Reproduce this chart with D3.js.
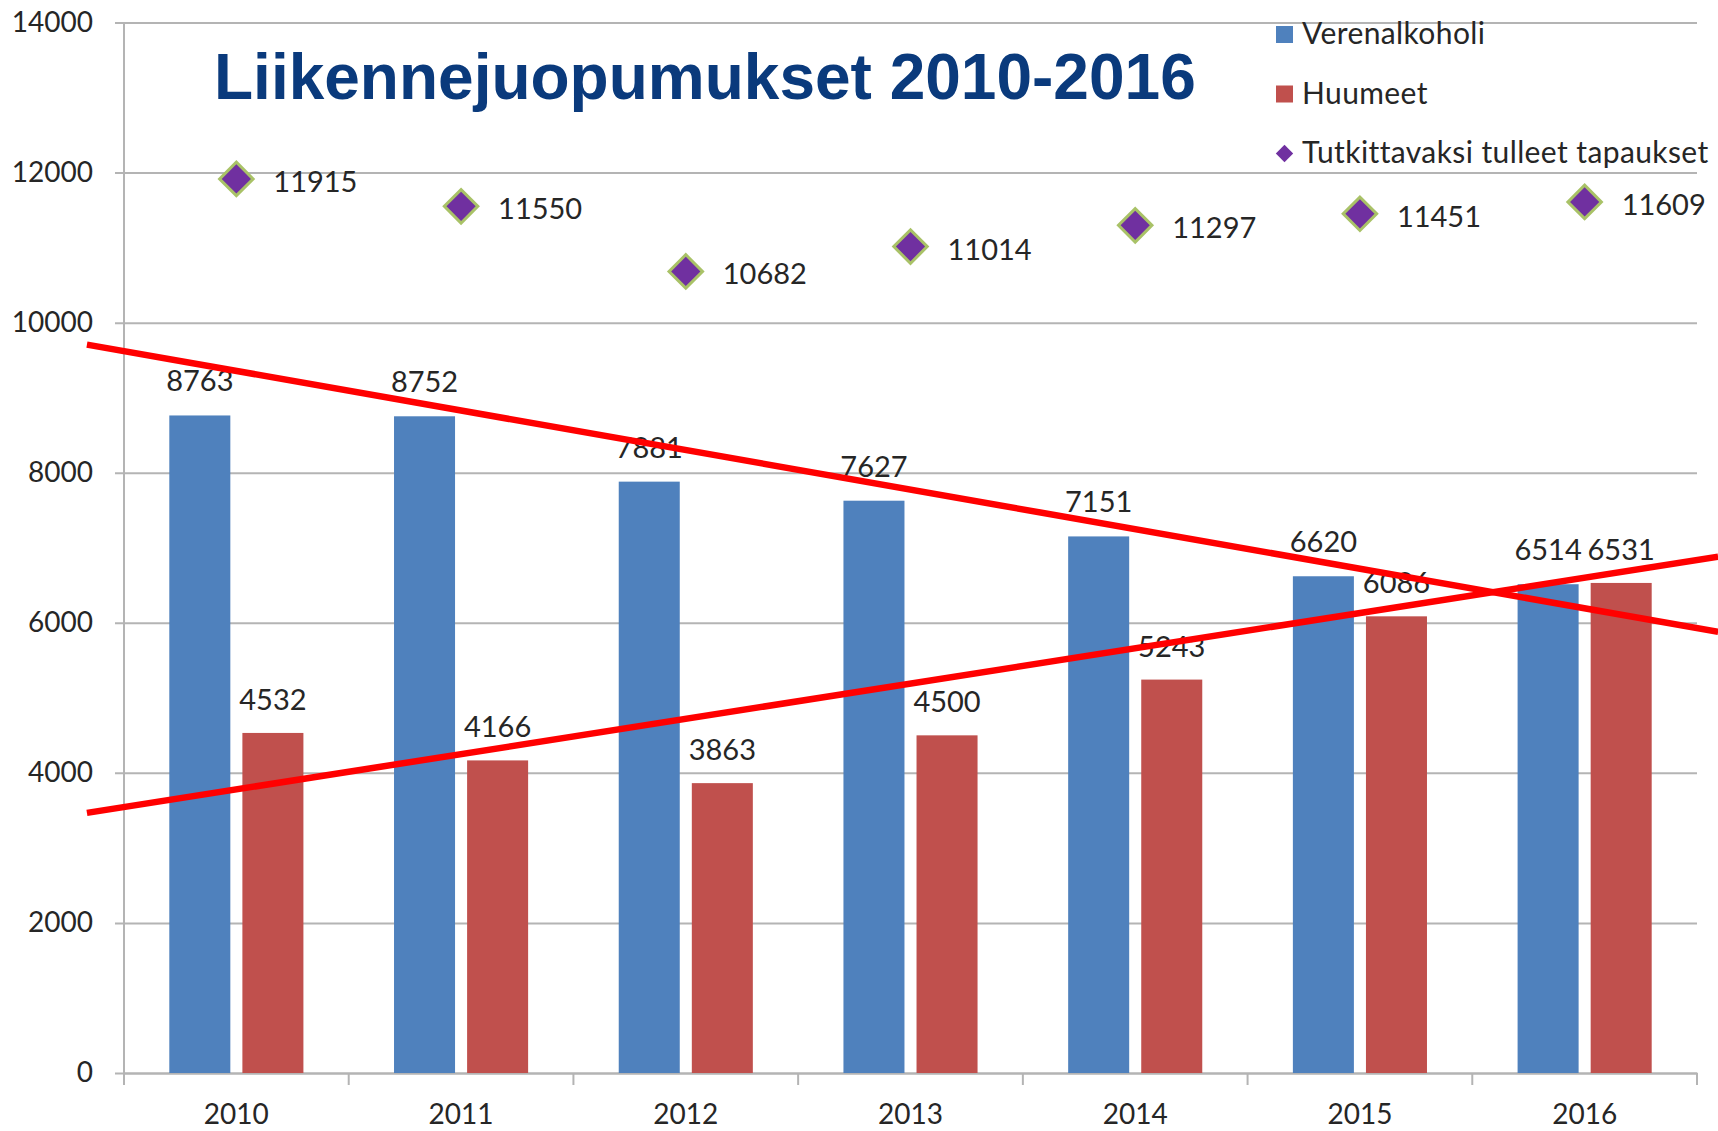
<!DOCTYPE html>
<html>
<head>
<meta charset="utf-8">
<script src="https://cdn.jsdelivr.net/npm/d3@7"></script>
<style>
  body { margin: 0; background: #fff; }
  svg { display: block; font-family: Lato, "Open Sans", sans-serif; }
</style>
</head>
<body>
<div id="chart"></div>
<script>
// years on the x axis
const years = ["2010", "2011", "2012", "2013", "2014", "2015", "2016"];
// bar series
const verenalkoholi = [8763, 8752, 7881, 7627, 7151, 6620, 6514];
const huumeet = [4532, 4166, 3863, 4500, 5243, 6086, 6531];
// diamond series
const tutkittavaksi = [11915, 11550, 10682, 11014, 11297, 11451, 11609];
// y ticks
const yTicks = [0, 2000, 4000, 6000, 8000, 10000, 12000, 14000];
// hand drawn red lines: [year position, value] at both ends
const trendDown = [[2009.335, 9707], [2016.594, 5880]];
const trendUp = [[2009.335, 3467], [2016.594, 6880]];
const legendLabels = ["Verenalkoholi", "Huumeet", "Tutkittavaksi tulleet tapaukset"];

const W = 1718, H = 1131;
const plotL = 124, plotR = 1697, plotT = 22.5, plotB = 1073;
const blue = "#4F81BD", red = "#C0504D", purple = "#7030A0", textCol = "#262626";

const svg = d3.select("#chart").append("svg")
    .attr("width", W)
    .attr("height", H);

const x = d3.scaleBand().domain(years).range([plotL, plotR]).padding(0);
const xSub = d3.scaleBand().domain(["v", "h"]).range([0, x.bandwidth()])
    .paddingInner(0.165).paddingOuter(0.62);
const y = d3.scaleLinear().domain([0, 14000]).range([plotB, plotT]);
const xYear = d3.scaleLinear()
    .domain([2010, 2016])
    .range([x("2010") + x.bandwidth() / 2, x("2016") + x.bandwidth() / 2]);

// gridlines + y axis
const yAxis = svg.append("g")
    .attr("transform", `translate(${plotL},0)`)
    .call(d3.axisLeft(y).tickValues(yTicks).tickFormat(d3.format("d"))
        .tickSize(plotR - plotL + 9).tickSizeOuter(0));
yAxis.select(".domain").remove();
yAxis.selectAll(".tick line")
    .attr("transform", `translate(${plotR - plotL},0)`)
    .attr("stroke", "#b4b4b4").attr("stroke-width", 2);
yAxis.selectAll(".tick text")
    .attr("x", -31)
    .attr("fill", textCol)
    .style("font-size", "28px")
    .style("font-family", "Lato");

svg.append("line")
    .attr("x1", plotL).attr("x2", plotL)
    .attr("y1", plotT).attr("y2", plotB)
    .attr("stroke", "#b4b4b4").attr("stroke-width", 2);

// x axis
const xAxis = svg.append("g")
    .attr("transform", `translate(0,${plotB})`)
    .call(d3.axisBottom(x).tickSize(0).tickPadding(31));
xAxis.select(".domain").attr("stroke", "#b4b4b4").attr("stroke-width", 2);
xAxis.selectAll(".tick text")
    .attr("fill", textCol)
    .style("font-size", "28px")
    .style("font-family", "Lato");
xAxis.selectAll(".sep")
    .data(years.concat(["end"]))
    .enter().append("line")
    .attr("x1", (d, i) => plotL + i * x.step())
    .attr("x2", (d, i) => plotL + i * x.step())
    .attr("y1", 0).attr("y2", 12)
    .attr("stroke", "#b4b4b4").attr("stroke-width", 2);

// bars
const groups = svg.selectAll(".year")
    .data(years)
    .enter().append("g")
    .attr("transform", d => `translate(${x(d)},0)`);

groups.append("rect")
    .attr("x", xSub("v"))
    .attr("y", (d, i) => y(verenalkoholi[i]))
    .attr("width", xSub.bandwidth())
    .attr("height", (d, i) => plotB - y(verenalkoholi[i]))
    .attr("fill", blue);

groups.append("rect")
    .attr("x", xSub("h"))
    .attr("y", (d, i) => y(huumeet[i]))
    .attr("width", xSub.bandwidth())
    .attr("height", (d, i) => plotB - y(huumeet[i]))
    .attr("fill", red);

groups.append("text")
    .attr("x", xSub("v") + xSub.bandwidth() / 2)
    .attr("y", (d, i) => y(verenalkoholi[i]) - 24)
    .attr("text-anchor", "middle")
    .attr("fill", textCol)
    .style("font-size", "29px")
    .text((d, i) => verenalkoholi[i]);

groups.append("text")
    .attr("x", xSub("h") + xSub.bandwidth() / 2)
    .attr("y", (d, i) => y(huumeet[i]) - 23)
    .attr("text-anchor", "middle")
    .attr("fill", textCol)
    .style("font-size", "29px")
    .text((d, i) => huumeet[i]);

// diamonds
const diamond = d3.symbol().type(d3.symbolSquare).size(560);
groups.append("path")
    .attr("d", diamond)
    .attr("transform", (d, i) => `translate(${x.bandwidth() / 2},${y(tutkittavaksi[i])}) rotate(45)`)
    .attr("fill", purple)
    .attr("stroke", "#A9C267")
    .attr("stroke-width", 3);

groups.append("text")
    .attr("x", x.bandwidth() / 2 + 37)
    .attr("y", (d, i) => y(tutkittavaksi[i]) + 13)
    .attr("fill", textCol)
    .style("font-size", "29px")
    .text((d, i) => tutkittavaksi[i]);

// title
svg.append("text")
    .attr("x", 214)
    .attr("y", 99)
    .attr("fill", "#0A3A7C")
    .style("font-family", "'Liberation Sans', Arial, sans-serif")
    .style("font-weight", "bold")
    .style("font-size", "64px")
    .text("Liikennejuopumukset 2010-2016");

// legend
const legend = svg.append("g").attr("transform", "translate(1276,0)");
const legendRows = legend.selectAll(".lg")
    .data(legendLabels)
    .enter().append("g")
    .attr("transform", (d, i) => `translate(0,${44 + i * 59.5})`);
legendRows.filter((d, i) => i < 2).append("rect")
    .attr("x", 0).attr("y", -18)
    .attr("width", 17).attr("height", 17)
    .attr("fill", (d, i) => i === 0 ? blue : red);
legendRows.filter((d, i) => i === 2).append("path")
    .attr("d", d3.symbol().type(d3.symbolSquare).size(150))
    .attr("transform", "translate(8.5,-9.5) rotate(45)")
    .attr("fill", purple);
legendRows.append("text")
    .attr("x", 26)
    .attr("y", 0)
    .attr("fill", textCol)
    .style("font-size", "30px")
    .style("letter-spacing", "0.4px")
    .text(d => d);

// red lines on top
const line = d3.line().x(d => xYear(d[0])).y(d => y(d[1]));
[trendDown, trendUp].forEach(t => {
    svg.append("path")
        .attr("d", line(t))
        .attr("fill", "none")
        .attr("stroke", "#FF0000")
        .attr("stroke-width", 6.5);
});
</script>
</body>
</html>
